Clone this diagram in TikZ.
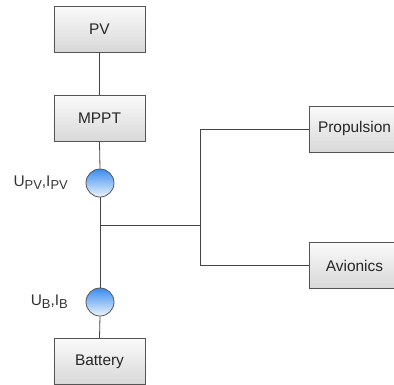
\documentclass[tikz,border=0pt]{standalone}
\usepackage{fontspec}
\setmainfont{Liberation Sans}
\newcommand{\mysub}[1]{\raisebox{-0.4ex}{\fontsize{13}{13}\selectfont #1}}
\definecolor{edgegray}{HTML}{555555}
\definecolor{linegray}{HTML}{444444}
\definecolor{boxtop}{HTML}{FAFAFA}
\definecolor{boxbot}{HTML}{D8D8D8}
\definecolor{circtop}{HTML}{3A8CF0}
\definecolor{circbot}{HTML}{EEF4FC}
\tikzset{
  blockbox/.style={draw=edgegray, line width=0.8bp, top color=boxtop, bottom color=boxbot,
    minimum width=91bp, minimum height=46bp, inner sep=0pt, font=\fontsize{15.5}{16}\selectfont, text=black!85},
  meter/.style={circle, draw=edgegray, line width=0.8bp, top color=circtop, bottom color=circbot,
    minimum size=28bp, inner sep=0pt},
  meterlabel/.style={anchor=east, inner sep=0pt, font=\fontsize{15.5}{16}\selectfont, text=black!80},
  wire/.style={draw=linegray, line width=0.8bp}
}
\begin{document}
\begin{tikzpicture}[x=1bp, y=-1bp]
\useasboundingbox (0,0) rectangle (394,385);
\clip (0,0) rectangle (394,385);
\node[blockbox] (pv) at (99.5,29) {PV};
\node[blockbox] (mppt) at (99.5,118.5) {MPPT};
\node[meter] (m1) at (100,183) {};
\node[meter] (m2) at (100,302) {};
\node[blockbox] (bat) at (99.5,361.5) {Battery};
\node[blockbox] (prop) at (354.5,129) {Propulsion};
\node[blockbox] (avi) at (354.5,265.5) {Avionics};
\node[meterlabel] (l1) at (68,183) {U\mysub{PV},I\mysub{PV}};
\node[meterlabel] (l2) at (68,302) {U\mysub{B},I\mysub{B}};
\coordinate (j) at (100,225);
\coordinate (jr) at (200,225);
\draw[wire] (pv.south) -- (mppt.north);
\draw[wire] (mppt.south) -- (m1.north);
\draw[wire] (m1.south) -- (m2.north);
\draw[wire] (m2.south) -- (bat.north);
\draw[wire] (j) -- (jr);
\draw[wire] (jr) |- (prop.west);
\draw[wire] (jr) |- (avi.west);
\end{tikzpicture}
\end{document}
